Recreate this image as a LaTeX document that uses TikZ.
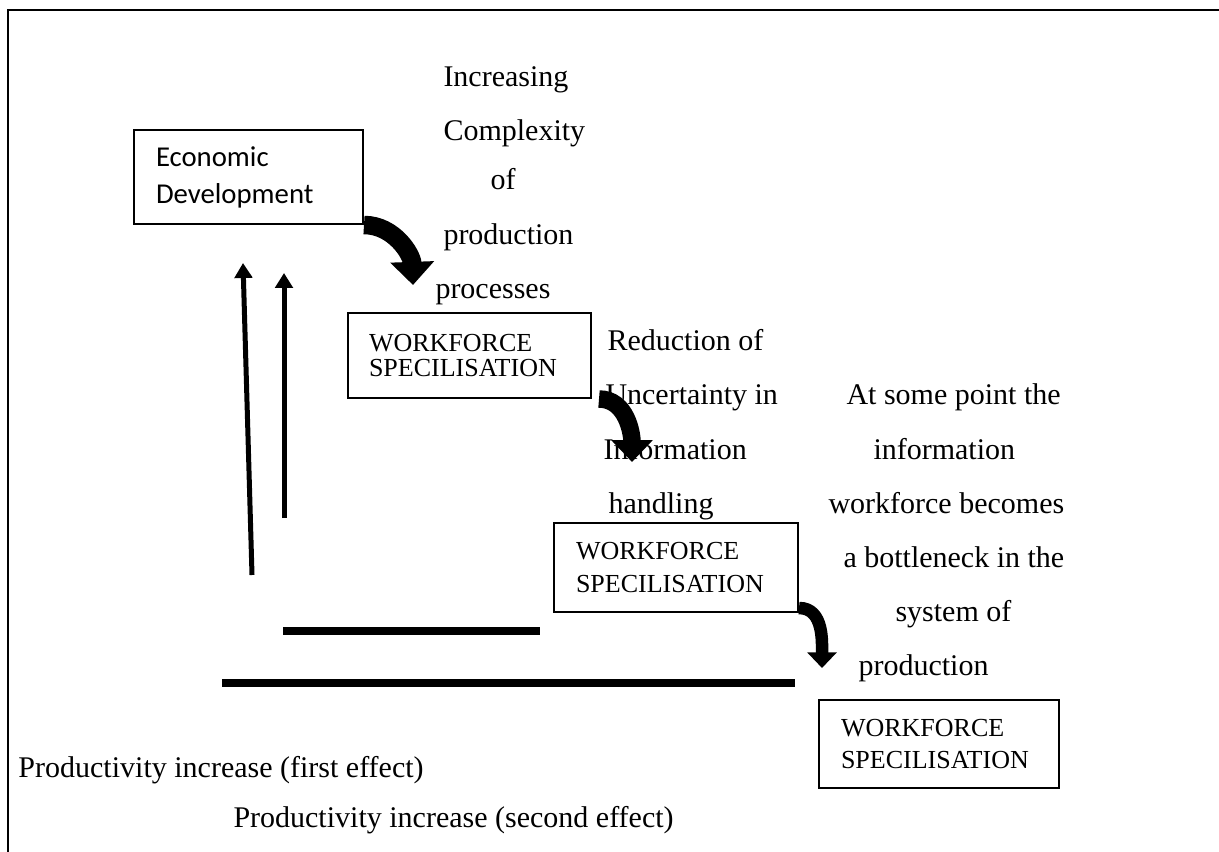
\documentclass[tikz,border=0pt]{standalone}
\usepackage{fontspec}
\setmainfont{Liberation Serif}
\newfontfamily\calibri{Carlito}
\usetikzlibrary{arrows.meta}

\tikzset{
  box/.style={draw, line width=0.8pt, anchor=north west, align=left, inner ysep=0pt},
  txt/.style={anchor=base west, inner sep=0pt, font=\fontsize{12}{14}\selectfont},
  bendarrow/.style={line width=#1, -{Triangle[length=0pt 1.25, width=0pt 2.3]}},
  uparrow/.style={line width=2pt, -{Triangle[length=6pt, width=7pt]}},
  effect/.style={line width=3.2pt}
}

\begin{document}
\begin{tikzpicture}[x=0.4pt,y=-0.4pt]
\useasboundingbox (0,0) rectangle (1219,852);
\draw[line width=1pt] (8,852) -- (8,10) -- (1219,10);

% boxes
\node[box, inner xsep=8.8pt, text width=74pt, minimum height=37.6pt,
  font=\calibri\fontsize{11.5}{14.8}\selectfont] (ed) at (133,129)
  {Economic\\Development};
\node[box, inner xsep=8.4pt, text width=80.4pt, minimum height=34pt,
  font=\fontsize{10.4}{10}\selectfont] (wf1) at (347,312)
  {WORKFORCE\\SPECILISATION};
\node[box, inner xsep=8.8pt, text width=80pt, minimum height=35.6pt,
  font=\fontsize{10.4}{13.2}\selectfont] (wf2) at (553,522)
  {WORKFORCE\\SPECILISATION};
\node[box, inner xsep=8.8pt, text width=78.4pt, minimum height=35.2pt,
  font=\fontsize{10.4}{12.8}\selectfont] (wf3) at (818,699)
  {WORKFORCE\\SPECILISATION};

% first step
\node[txt] (c1) at (443,87) {Increasing};
\node[txt] (c2) at (443,141) {Complexity};
\node[txt] (c3) at (490,190) {of};
\node[txt] (c4) at (443,245) {production};
\node[txt] (c5) at (435,299) {processes};

% second step
\node[txt] (r1) at (607,350) {Reduction of};
\node[txt] (r2) at (605,405) {Uncertainty in};
\node[txt] (r3) at (603,459) {Information};
\node[txt] (r4) at (608,513) {handling};

% third step
\node[txt] (b1) at (846,405) {At some point the};
\node[txt] (b2) at (873,459) {information};
\node[txt] (b3) at (828,513) {workforce becomes};
\node[txt] (b4) at (843,567) {a bottleneck in the};
\node[txt] (b5) at (895,621) {system of};
\node[txt] (b6) at (858,675) {production};

% effects
\node[txt] (e1) at (18,777) {Productivity increase (first effect)};
\node[txt] (e2) at (233,827) {Productivity increase (second effect)};

\coordinate (tip1) at (413,285);
\coordinate (tip2) at (632,462);
\coordinate (tip3) at (822,668);
\draw[bendarrow=7.4pt] (ed.south east) to[out=0,in=92] (tip1);
\draw[bendarrow=7pt] ([xshift=2.8pt]wf1.south east) to[out=0,in=90] (tip2);
\draw[bendarrow=5pt] ([yshift=2pt]wf2.south east) to[out=0,in=90] (tip3);

\coordinate (u1) at (252,575);
\coordinate (u1e) at (243,263);
\coordinate (u2) at (284,518);
\coordinate (u2e) at (284,273);
\draw[uparrow] (u1) -- (u1e);
\draw[uparrow] (u2) -- (u2e);

\coordinate (l1) at (283,631);
\coordinate (l1e) at (540,631);
\coordinate (l2) at (222,683);
\coordinate (l2e) at (795,683);
\draw[effect] (l1) -- (l1e);
\draw[effect] (l2) -- (l2e);
\end{tikzpicture}
\end{document}
